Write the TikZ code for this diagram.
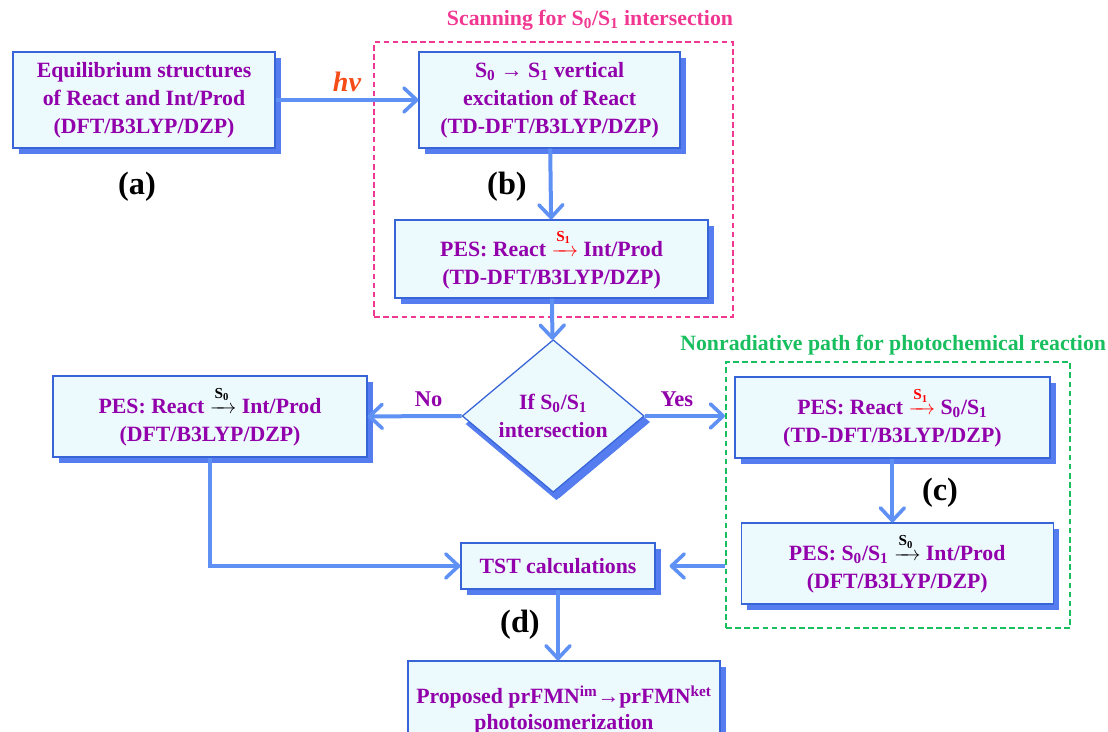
\documentclass[tikz,border=0pt]{standalone}
\usepackage{fontspec}
\setmainfont{Liberation Serif}
\usepackage{amsmath}
\usetikzlibrary{arrows.meta,shapes.geometric,shadows}

\definecolor{boxfill}{RGB}{236,249,253}
\definecolor{boxline}{RGB}{55,100,215}
\definecolor{boxshade}{RGB}{85,125,240}
\definecolor{flowblue}{RGB}{95,145,245}
\definecolor{textpurple}{RGB}{145,0,170}
\definecolor{scanpink}{RGB}{240,55,145}
\definecolor{pathgreen}{RGB}{25,190,95}
\definecolor{hvorange}{RGB}{245,75,20}

\newcommand{\overstep}[2]{\textcolor{#1}{$\xrightarrow{\text{\raisebox{2.5pt}{S\textsubscript{#2}}}}$}}

\begin{document}
\begin{tikzpicture}[
        box/.style={draw=boxline, line width=0.9pt, fill=boxfill, align=center, text=textpurple,
            font=\fontsize{15.5}{20}\selectfont\bfseries, inner sep=2pt,
            drop shadow={shadow xshift=1.5mm, shadow yshift=-1.5mm, fill=boxshade, opacity=1}},
        decision/.style={box, diamond, inner sep=0pt,
            drop shadow={shadow xshift=0.8mm, shadow yshift=-2mm, fill=boxshade, opacity=1}},
        frame/.style={draw, dashed, line width=1.4pt, dash pattern=on 4pt off 2.5pt, inner sep=0pt},
        title/.style={font=\fontsize{15.5}{20}\selectfont\bfseries},
        tag/.style={font=\fontsize{23}{26}\selectfont\bfseries},
        answer/.style={text=textpurple, font=\fontsize{16}{20}\selectfont\bfseries},
        flow/.style={-{Straight Barb[length=3.2mm, width=6mm, line width=0.9mm, round]}, draw=flowblue, line width=1mm}
    ]
        \useasboundingbox (0, 0) rectangle (27.7, 18.3);

        \node[frame, draw=scanpink, minimum width=89.75mm, minimum height=68.75mm] (scan) at (13.84, 13.81) {};
        \node[frame, draw=pathgreen, minimum width=86mm, minimum height=66.5mm] (nonrad) at (22.45, 5.925) {};
        \node[title, text=scanpink] (scan-title) at (14.75, 17.8) {Scanning for S\textsubscript{0}/S\textsubscript{1} intersection};
        \node[title, text=pathgreen] (nonrad-title) at (22.33, 9.675) {Nonradiative path for photochemical reaction};

        \node[box, minimum width=65.5mm, minimum height=24mm] (equil) at (3.6, 15.8) {Equilibrium structures\\of React and Int/Prod\\(DFT/B3LYP/DZP)};
        \node[box, minimum width=65.25mm, minimum height=24mm] (excite) at (13.74, 15.8) {S\textsubscript{0} → S\textsubscript{1} vertical\\excitation of React\\(TD-DFT/B3LYP/DZP)};
        \node[box, minimum width=78.25mm, minimum height=19.5mm] (pes-s1) at (13.79, 11.825) {PES: React \overstep{red}{1} Int/Prod\\(TD-DFT/B3LYP/DZP)};

        \node[decision, minimum width=45.5mm, minimum height=30.5mm] (check) at (13.83, 7.9) {If S\textsubscript{0}/S\textsubscript{1}\\intersection};
        \node[box, minimum width=78.5mm, minimum height=20.25mm] (pes-s0) at (5.25, 7.89) {PES: React \overstep{black}{0} Int/Prod\\(DFT/B3LYP/DZP)};
        \node[box, minimum width=78.75mm, minimum height=20.25mm] (pes-ci) at (22.31, 7.86) {PES: React \overstep{red}{1} S\textsubscript{0}/S\textsubscript{1}\\(TD-DFT/B3LYP/DZP)};
        \node[box, minimum width=78mm, minimum height=20.25mm] (pes-back) at (22.43, 4.21) {PES: S\textsubscript{0}/S\textsubscript{1} \overstep{black}{0} Int/Prod\\(DFT/B3LYP/DZP)};

        \node[box, minimum width=48.5mm, minimum height=11.5mm] (tst) at (13.95, 4.15) {TST calculations};
        \node[box, minimum width=78mm, minimum height=24.5mm, font=\fontsize{15.5}{18}\selectfont\bfseries] (result) at (14.1, 0.55) {Proposed prFMN\textsuperscript{im}→prFMN\textsuperscript{ket}\\photoisomerization};

        \node[tag] (tag-a) at (3.425, 13.625) {(a)};
        \node[tag] (tag-b) at (12.675, 13.625) {(b)};
        \node[tag] (tag-c) at (23.5, 5.975) {(c)};
        \node[tag] (tag-d) at (13.0, 2.675) {(d)};

        \draw[flow] (equil.east) -- (excite.west) node[midway, above=1pt, text=hvorange, font=\fontsize{20}{24}\selectfont\bfseries\itshape] {hν};
        \draw[flow] (excite) -- (pes-s1);
        \draw[flow] (pes-s1) -- (check);
        \draw[flow] (check.west) -- (pes-s0.east) node[answer, pos=0.35, above=2pt] {No};
        \draw[flow] (check.east) -- (check.east -| nonrad.west) node[answer, pos=0.4, above=2pt] {Yes};
        \draw[flow] (pes-ci.south) -- (pes-ci.south |- pes-back.north);
        \draw[flow] (pes-s0.south) |- (tst.west);
        \draw[flow, shorten >=3.5mm] (tst.east -| nonrad.west) -- (tst.east);
        \draw[flow] (tst.south) -- (tst.south |- result.north);
    \end{tikzpicture}
\end{document}
